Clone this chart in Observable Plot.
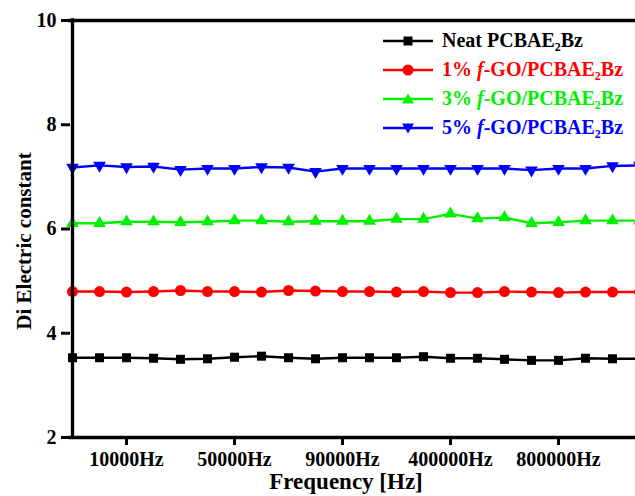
<!DOCTYPE html>
<html><head><meta charset="utf-8">
<script src="https://cdn.jsdelivr.net/npm/d3@7"></script>
<script src="https://cdn.jsdelivr.net/npm/@observablehq/plot@0.6"></script>
<style>
html,body{margin:0;padding:0;background:#fff;overflow:hidden;}
#wrap{position:relative;width:635px;height:496px;overflow:hidden;background:#fff;}
#wrap > svg{max-width:none !important;width:680px !important;height:496px !important;display:block;}
#legend{position:absolute;left:383px;top:26px;font-family:"Liberation Serif","Times New Roman",serif;font-weight:bold;font-size:20px;z-index:2;}
.row{display:flex;align-items:center;height:29px;white-space:nowrap;}
.row svg{width:50px;height:14px;margin-right:9px;}
.row sub{font-size:0.6em;vertical-align:-0.35em;line-height:0;}
.row i{font-style:italic;}
</style></head><body><div id="wrap"><div id="legend"></div></div>
<script>
const frequencies = [1000, 5000, 10000, 20000, 30000, 40000, 50000, 60000, 70000, 80000, 90000,
  100000, 200000, 300000, 400000, 500000, 600000, 700000, 800000, 900000, 1000000, 2000000];
const seriesNames = ["Neat PCBAE2Bz", "1% f-GO/PCBAE2Bz", "3% f-GO/PCBAE2Bz", "5% f-GO/PCBAE2Bz"];
const seriesColors = ["#000000", "#ff0000", "#00f000", "#0000ff"];
const neat = [3.53,3.53,3.53,3.52,3.50,3.51,3.54,3.56,3.53,3.51,3.53,3.53,3.53,3.55,3.52,3.52,3.50,3.48,3.48,3.52,3.51,3.51];
const go1  = [4.80,4.80,4.79,4.80,4.82,4.80,4.80,4.79,4.82,4.81,4.80,4.80,4.79,4.80,4.78,4.78,4.80,4.79,4.78,4.79,4.79,4.79];
const go3  = [6.11,6.11,6.14,6.14,6.13,6.14,6.16,6.16,6.14,6.15,6.15,6.15,6.19,6.19,6.29,6.20,6.22,6.11,6.13,6.16,6.16,6.16];
const go5  = [7.18,7.22,7.19,7.20,7.14,7.16,7.16,7.19,7.18,7.10,7.16,7.16,7.16,7.16,7.16,7.16,7.16,7.13,7.16,7.16,7.21,7.22];
const yTicks = [2, 4, 6, 8, 10];
const xTicks = [10000, 50000, 90000, 400000, 800000];
const xTitle = "Frequency [Hz]";
const yTitle = "Di Electric constant";

const seriesValues = [neat, go1, go3, go5];
const rows = [];
seriesValues.forEach((vals, s) => vals.forEach((v, i) => rows.push({series: seriesNames[s], f: frequencies[i], v})));

const sqrt3 = Math.sqrt(3);
const triangleDown = {
  draw(context, size) {
    const y = -Math.sqrt(size / (sqrt3 * 3));
    context.moveTo(0, -y * 2);
    context.lineTo(-sqrt3 * y, y);
    context.lineTo(sqrt3 * y, y);
    context.closePath();
  }
};
const symbols = ["square", "circle", "triangle", triangleDown];
const radii = [5.1, 5.5, 4.7, 4.7];

const chart = Plot.plot({
  width: 680,
  height: 496,
  marginLeft: 70,
  marginRight: 39,
  marginTop: 20,
  marginBottom: 59,
  style: {fontFamily: "'Liberation Serif','Times New Roman',serif", fontWeight: "bold", fontSize: "20px", background: "#fff", color: "#000", maxWidth: "none"},
  x: {type: "point", domain: frequencies, padding: 0},
  y: {domain: [2, 10]},
  color: {domain: seriesNames, range: seriesColors},
  marks: [
    Plot.line(rows, {x: "f", y: "v", z: "series", stroke: "series", strokeWidth: 2.4}),
    ...seriesNames.map((name, s) => Plot.dot(rows.filter(d => d.series === name), {
      x: "f", y: "v", symbol: symbols[s], r: radii[s], fill: seriesColors[s], stroke: "none"
    })),
    Plot.ruleY([2, 10], {strokeWidth: 3.3, strokeLinecap: "square"}),
    Plot.ruleX([frequencies[0]], {strokeWidth: 3.3, strokeLinecap: "square"}),
    Plot.axisY({ticks: yTicks, tickSize: 9, tickPadding: 5, strokeWidth: 3, fontSize: 20, fontWeight: "bold", label: null}),
    Plot.axisX({ticks: xTicks, tickFormat: d => d + "Hz", tickSize: 8, tickPadding: 6, strokeWidth: 3, fontSize: 20, fontWeight: "bold", label: null}),
    Plot.text([yTitle], {text: d => d, frameAnchor: "left", textAnchor: "middle", lineAnchor: "middle", rotate: -90, dx: -46, dy: 12, fontSize: 21, fontWeight: "bold"}),
    Plot.text([xTitle], {text: d => d, frameAnchor: "bottom", textAnchor: "middle", lineAnchor: "middle", dx: -10, dy: 44, fontSize: 23, fontWeight: "bold"})
  ]
});
document.getElementById("wrap").appendChild(chart);

// Legend
const legend = document.getElementById("legend");
const legendHTML = ["Neat PCBAE<sub>2</sub>Bz", "1% <i>f</i>-GO/PCBAE<sub>2</sub>Bz", "3% <i>f</i>-GO/PCBAE<sub>2</sub>Bz", "5% <i>f</i>-GO/PCBAE<sub>2</sub>Bz"];
seriesNames.forEach((name, s) => {
  const row = document.createElement("div");
  row.className = "row";
  row.style.color = seriesColors[s];
  const c = seriesColors[s];
  let marker;
  if (s === 0) marker = `<rect x="20.5" y="2.5" width="9" height="9" fill="${c}"/>`;
  else if (s === 1) marker = `<circle cx="25" cy="7" r="5.5" fill="${c}"/>`;
  else if (s === 2) marker = `<path d="M25,1.5 L31,11.5 L19,11.5 Z" fill="${c}"/>`;
  else marker = `<path d="M25,12.5 L31,2.5 L19,2.5 Z" fill="${c}"/>`;
  row.innerHTML = `<svg viewBox="0 0 50 14"><line x1="0" y1="7" x2="50" y2="7" stroke="${c}" stroke-width="2.4"/>${marker}</svg><span>${legendHTML[s]}</span>`;
  legend.appendChild(row);
});
</script>
</body></html>
